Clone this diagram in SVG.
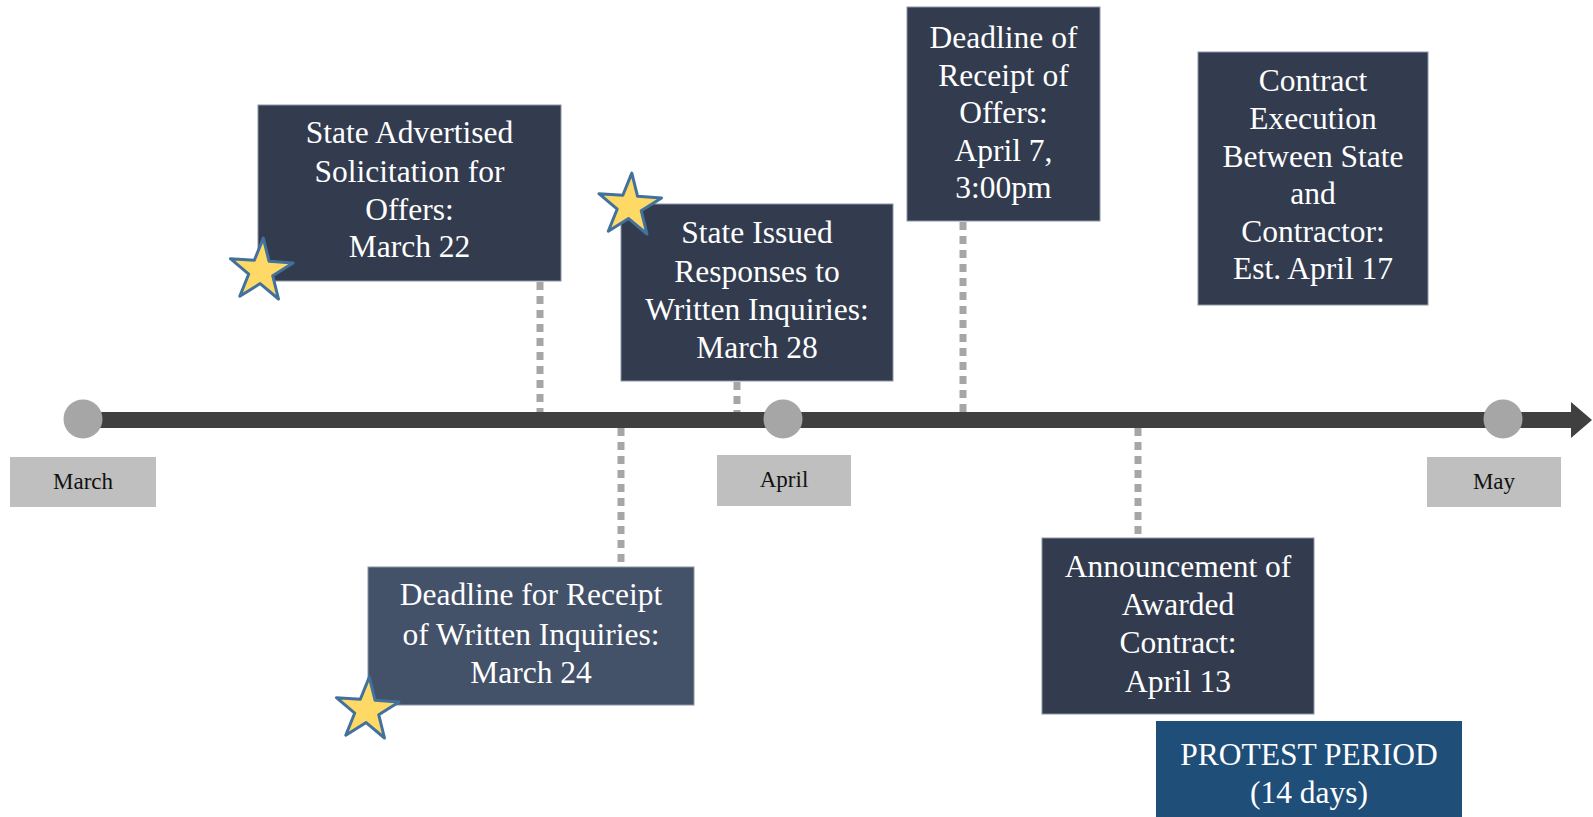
<svg xmlns="http://www.w3.org/2000/svg" width="1593" height="817" viewBox="0 0 1593 817">
<style>
.box{fill:#333c4f;stroke:#8a94a6;stroke-width:1}
.box2{fill:#435169;stroke:#8a94a6;stroke-width:1}
.prot{fill:#1f4e79}
.t{font-family:"Liberation Serif","Times New Roman",serif;font-size:31.5px;fill:#ffffff;text-anchor:middle}
.m{font-family:"Liberation Serif","Times New Roman",serif;font-size:23px;fill:#111111;text-anchor:middle}
.lab{fill:#bfbfbf}
.dot{fill:#a6a6a6}
.conn{stroke:#a6a6a6;stroke-width:7;stroke-dasharray:8 6;fill:none}
.star{fill:#ffd966;stroke:#41719c;stroke-width:3;stroke-linejoin:round}
</style>
<defs>
<path id="star" d="M0,-33 L7.4,-10.2 L31.4,-10.2 L12,3.9 L19.4,26.7 L0,12.6 L-19.4,26.7 L-12,3.9 L-31.4,-10.2 L-7.4,-10.2 Z"/>
</defs>
<g id="timeline">
<rect x="83" y="412" width="1491" height="16" fill="#404040"/>
<polygon points="1571,402 1592,420 1571,438" fill="#404040"/>
</g>
<g id="connectors">
<line class="conn" x1="540" y1="282" x2="540" y2="412"/>
<line class="conn" x1="621" y1="428" x2="621" y2="566"/>
<line class="conn" x1="737" y1="382" x2="737" y2="412"/>
<line class="conn" x1="963" y1="222" x2="963" y2="412"/>
<line class="conn" x1="1138" y1="428" x2="1138" y2="537"/>
</g>
<g id="march">
<circle class="dot" cx="83" cy="419" r="19.5"/>
<rect class="lab" x="10" y="457" width="146" height="50"/>
<text class="m" x="83" y="489">March</text>
</g>
<g id="april">
<circle class="dot" cx="783" cy="419" r="19.5"/>
<rect class="lab" x="717" y="455" width="134" height="51"/>
<text class="m" x="784" y="487">April</text>
</g>
<g id="may">
<circle class="dot" cx="1503" cy="419" r="19.5"/>
<rect class="lab" x="1427" y="457" width="134" height="50"/>
<text class="m" x="1494" y="489">May</text>
</g>
<g id="node-advertised">
<rect class="box" x="258" y="105" width="303" height="176"/>
<text class="t" x="409.5" y="143">State Advertised</text>
<text class="t" x="409.5" y="182">Solicitation for</text>
<text class="t" x="409.5" y="220">Offers:</text>
<text class="t" x="409.5" y="257">March 22</text>
<use href="#star" class="star" transform="translate(261,271) rotate(4)"/>
</g>
<g id="node-responses">
<rect class="box" x="621" y="204" width="272" height="177"/>
<text class="t" x="757" y="243">State Issued</text>
<text class="t" x="757" y="282">Responses to</text>
<text class="t" x="757" y="320">Written Inquiries:</text>
<text class="t" x="757" y="358">March 28</text>
<use href="#star" class="star" transform="translate(629.5,206) rotate(4)"/>
</g>
<g id="node-inquiries">
<rect class="box2" x="368" y="567" width="326" height="138"/>
<text class="t" x="531" y="605">Deadline for Receipt</text>
<text class="t" x="531" y="645">of Written Inquiries:</text>
<text class="t" x="531" y="683">March 24</text>
<use href="#star" class="star" transform="translate(367,710) rotate(4)"/>
</g>
<g id="node-offers">
<rect class="box" x="907" y="7" width="193" height="214"/>
<text class="t" x="1003.5" y="48">Deadline of</text>
<text class="t" x="1003.5" y="86">Receipt of</text>
<text class="t" x="1003.5" y="123">Offers:</text>
<text class="t" x="1003.5" y="161">April 7,</text>
<text class="t" x="1003.5" y="198">3:00pm</text>
</g>
<g id="node-execution">
<rect class="box" x="1198" y="52" width="230" height="253"/>
<text class="t" x="1313" y="91">Contract</text>
<text class="t" x="1313" y="129">Execution</text>
<text class="t" x="1313" y="167">Between State</text>
<text class="t" x="1313" y="204">and</text>
<text class="t" x="1313" y="242">Contractor:</text>
<text class="t" x="1313" y="279">Est. April 17</text>
</g>
<g id="node-announcement">
<rect class="box" x="1042" y="538" width="272" height="176"/>
<text class="t" x="1178" y="577">Announcement of</text>
<text class="t" x="1178" y="615">Awarded</text>
<text class="t" x="1178" y="653">Contract:</text>
<text class="t" x="1178" y="692">April 13</text>
</g>
<g id="node-protest">
<rect class="prot" x="1156" y="721" width="306" height="96"/>
<text class="t" x="1309" y="765">PROTEST PERIOD</text>
<text class="t" x="1309" y="803">(14 days)</text>
</g>
</svg>
